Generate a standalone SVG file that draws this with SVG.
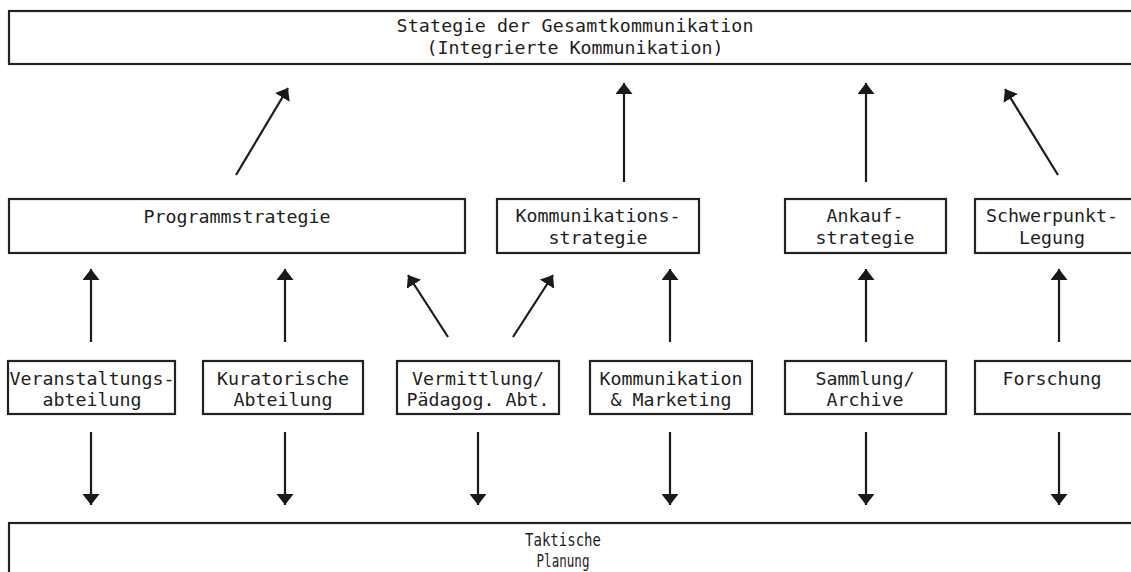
<svg xmlns="http://www.w3.org/2000/svg" width="1131" height="572" viewBox="0 0 1131 572">
  <defs>
    <marker id="head" markerUnits="userSpaceOnUse" markerWidth="13" markerHeight="18" refX="11" refY="8.5" orient="auto">
      <path d="M0,0 L11,8.5 L0,17 Z" fill="#1a1a1a"/>
    </marker>
    <style>
      .box { fill: #ffffff; stroke: #222222; stroke-width: 2.2; }
      .lbl { font-family: "DejaVu Sans Mono", "Liberation Mono", monospace; font-size: 18.3px; fill: #1e1e1e; text-anchor: middle; }
      .con line { stroke: #1a1a1a; stroke-width: 2.2; marker-end: url(#head); }
    </style>
  </defs>
  <rect width="1131" height="572" fill="#ffffff"/>

  <!-- overall strategy -->
  <g id="gesamtstrategie">
    <rect class="box" x="9" y="11" width="1125" height="53"/>
    <text class="lbl" x="575" y="32" textLength="357" lengthAdjust="spacing">Stategie der Gesamtkommunikation</text>
    <text class="lbl" x="575" y="54">(Integrierte Kommunikation)</text>
  </g>

  <!-- strategy row -->
  <g id="programmstrategie">
    <rect class="box" x="9" y="199" width="456" height="54"/>
    <text class="lbl" x="237" y="223">Programmstrategie</text>
  </g>
  <g id="kommunikationsstrategie">
    <rect class="box" x="497" y="199" width="202" height="54"/>
    <text class="lbl" x="598" y="222">Kommunikations-</text>
    <text class="lbl" x="598" y="244">strategie</text>
  </g>
  <g id="ankaufstrategie">
    <rect class="box" x="785" y="199" width="161" height="54"/>
    <text class="lbl" x="865" y="222">Ankauf-</text>
    <text class="lbl" x="865" y="244">strategie</text>
  </g>
  <g id="schwerpunkt">
    <rect class="box" x="975" y="199" width="159" height="54"/>
    <text class="lbl" x="1052" y="222">Schwerpunkt-</text>
    <text class="lbl" x="1052" y="244">Legung</text>
  </g>

  <!-- departments row -->
  <g id="veranstaltung">
    <rect class="box" x="8" y="361" width="167" height="53"/>
    <text class="lbl" x="92" y="385">Veranstaltungs-</text>
    <text class="lbl" x="92" y="406">abteilung</text>
  </g>
  <g id="kuratorisch">
    <rect class="box" x="203" y="361" width="160" height="53"/>
    <text class="lbl" x="283" y="385">Kuratorische</text>
    <text class="lbl" x="283" y="406">Abteilung</text>
  </g>
  <g id="vermittlung">
    <rect class="box" x="397" y="361" width="162" height="53"/>
    <text class="lbl" x="478" y="385">Vermittlung/</text>
    <text class="lbl" x="478" y="406">Pädagog. Abt.</text>
  </g>
  <g id="marketing">
    <rect class="box" x="590" y="361" width="162" height="53"/>
    <text class="lbl" x="671" y="385">Kommunikation</text>
    <text class="lbl" x="671" y="406">&amp; Marketing</text>
  </g>
  <g id="sammlung">
    <rect class="box" x="785" y="361" width="161" height="53"/>
    <text class="lbl" x="865" y="385">Sammlung/</text>
    <text class="lbl" x="865" y="406">Archive</text>
  </g>
  <g id="forschung">
    <rect class="box" x="975" y="361" width="159" height="53"/>
    <text class="lbl" x="1052" y="385">Forschung</text>
  </g>

  <!-- tactical planning (condensed lettering) -->
  <g id="taktik">
    <rect class="box" x="9" y="523" width="1125" height="60"/>
    <text class="lbl" x="563" y="546" textLength="76" lengthAdjust="spacingAndGlyphs">Taktische</text>
    <text class="lbl" x="563" y="567" textLength="53" lengthAdjust="spacingAndGlyphs">Planung</text>
  </g>

  <!-- connectors -->
  <g id="connectors" class="con">
    <line x1="236" y1="175" x2="288" y2="88"/>
    <line x1="624" y1="182" x2="624" y2="83"/>
    <line x1="866" y1="182" x2="866" y2="83"/>
    <line x1="1058" y1="175" x2="1005" y2="89"/>

    <line x1="91" y1="342" x2="91" y2="269"/>
    <line x1="285" y1="342" x2="285" y2="269"/>
    <line x1="448" y1="337" x2="408" y2="275"/>
    <line x1="513" y1="337" x2="553" y2="275"/>
    <line x1="670" y1="342" x2="670" y2="269"/>
    <line x1="866" y1="342" x2="866" y2="269"/>
    <line x1="1059" y1="342" x2="1059" y2="269"/>

    <line x1="91" y1="432" x2="91" y2="505"/>
    <line x1="285" y1="432" x2="285" y2="505"/>
    <line x1="478" y1="432" x2="478" y2="505"/>
    <line x1="670" y1="432" x2="670" y2="505"/>
    <line x1="866" y1="432" x2="866" y2="505"/>
    <line x1="1059" y1="432" x2="1059" y2="505"/>
  </g>
</svg>
